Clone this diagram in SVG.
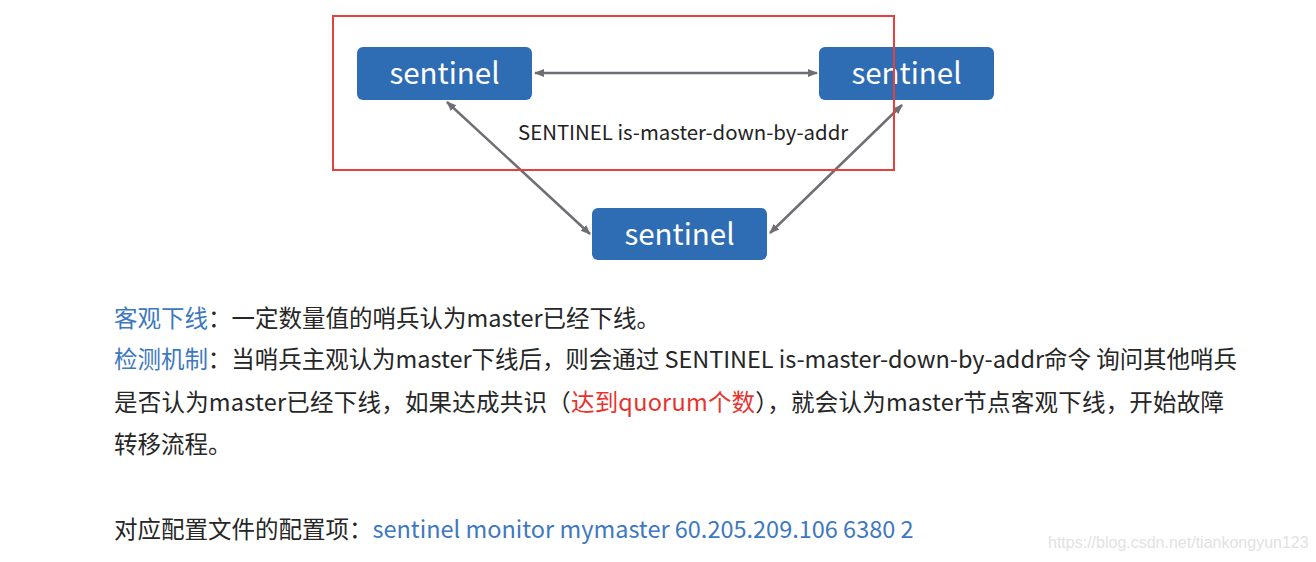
<svg xmlns="http://www.w3.org/2000/svg" width="1316" height="562" viewBox="0 0 1316 562">
<defs>
<marker id="ah" viewBox="0 0 10 10" refX="9" refY="5" markerWidth="10" markerHeight="10" markerUnits="userSpaceOnUse" orient="auto-start-reverse">
<path d="M0,1 L10,5 L0,9 Z" fill="#6e6e74"/>
</marker>
<style>
.node{fill:#2e6db4;}
.nt{font-family:"Noto Sans CJK SC","Noto Sans",sans-serif;font-size:29.5px;fill:#ffffff;text-anchor:middle;}
.conn{stroke:#6e6e74;stroke-width:2.5;fill:none;marker-start:url(#ah);marker-end:url(#ah);}
.body{font-family:"Noto Sans CJK SC","Noto Sans",sans-serif;font-size:23.5px;fill:#262626;}
.blue{fill:#3d78c0;}
.red{fill:#e8332f;}
.lbl{font-family:"Noto Sans CJK SC","Noto Sans",sans-serif;font-size:20.4px;fill:#222222;}
</style>
</defs>
<rect width="1316" height="562" fill="#ffffff"/>
<g id="connectors">
<line class="conn" x1="535" y1="73" x2="817" y2="73"/>
<line class="conn" x1="447" y1="102" x2="590" y2="234"/>
<line class="conn" x1="770" y1="233" x2="902" y2="105"/>
</g>
<g id="node-left">
<rect class="node" x="357" y="47" width="175" height="53" rx="6"/>
<text class="nt" x="444.5" y="84">sentinel</text>
</g>
<g id="node-right">
<rect class="node" x="819" y="47" width="175" height="53" rx="6"/>
<text class="nt" x="906.5" y="84">sentinel</text>
</g>
<g id="node-bottom">
<rect class="node" x="592" y="208" width="175" height="52" rx="6"/>
<text class="nt" x="679.5" y="245">sentinel</text>
</g>
<rect id="highlight" x="333" y="16" width="561" height="154" fill="none" stroke="#e8403a" stroke-width="2"/>
<text class="lbl" x="518" y="140">SENTINEL is-master-down-by-addr</text>
<text class="body" x="114" y="327"><tspan class="blue">客观下线</tspan>：一定数量值的哨兵认为master已经下线。</text>
<text class="body" x="114" y="368" textLength="1123" lengthAdjust="spacing"><tspan class="blue">检测机制</tspan>：当哨兵主观认为master下线后，则会通过 SENTINEL is-master-down-by-addr命令 询问其他哨兵</text>
<text class="body" x="114" y="411" textLength="1110" lengthAdjust="spacing">是否认为master已经下线，如果达成共识（<tspan class="red">达到quorum个数</tspan>），就会认为master节点客观下线，开始故障</text>
<text class="body" x="114" y="453">转移流程。</text>
<text class="body" x="114" y="538"><tspan>对应配置文件的配置项：</tspan><tspan class="blue">sentinel monitor mymaster 60.205.209.106 6380 2</tspan></text>
<text x="1048" y="548" font-family="Liberation Sans, Arial, sans-serif" font-size="16" fill="#e2e2e2">https://blog.csdn.net/tiankongyun123</text>
</svg>
